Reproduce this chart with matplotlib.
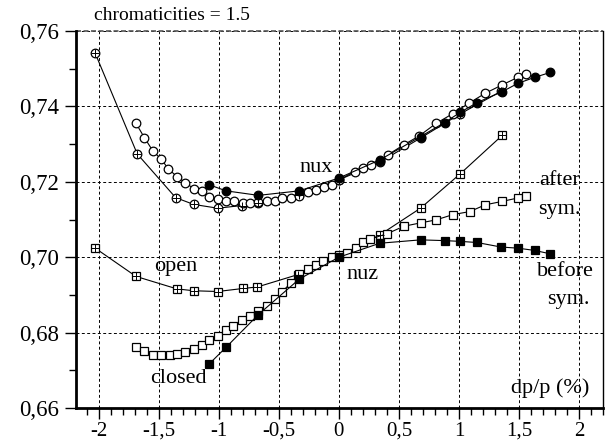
import matplotlib
matplotlib.use("Agg")
import matplotlib.pyplot as plt
from matplotlib.ticker import MultipleLocator, FuncFormatter

plt.rcParams['font.family'] = ['Liberation Serif', 'DejaVu Serif']

# crossed circles (nux, open)
nux_open_x = [-2.03, -1.68, -1.36, -1.21, -1.01, -0.81, -0.67, -0.33, 0.0, 0.34, 0.68, 1.01, 1.35]
nux_open_y = [0.7541, 0.7274, 0.7158, 0.7140, 0.7130, 0.7137, 0.7143, 0.7166, 0.7205, 0.7252, 0.7316, 0.7380, 0.7440]

# open circles (nux, closed / after sym.)
nux_after_x = [-1.69, -1.62, -1.55, -1.48, -1.42, -1.35, -1.28, -1.21, -1.14, -1.08, -1.01, -0.94, -0.87,
               -0.80, -0.74, -0.67, -0.60, -0.53, -0.47, -0.40, -0.33, -0.26, -0.19, -0.12, -0.06, 0.0,
               0.13, 0.20, 0.27, 0.34, 0.41, 0.54, 0.67, 0.81, 0.95, 1.08, 1.22, 1.36, 1.49, 1.56]
nux_after_y = [0.7355, 0.7317, 0.7282, 0.7260, 0.7234, 0.7214, 0.7198, 0.7182, 0.7176, 0.7161, 0.7155, 0.7149, 0.7149,
               0.7145, 0.7145, 0.7146, 0.7148, 0.7150, 0.7156, 0.7158, 0.7163, 0.7172, 0.7179, 0.7185, 0.7192, 0.7205,
               0.7227, 0.7236, 0.7245, 0.7254, 0.7272, 0.7298, 0.7322, 0.7355, 0.7381, 0.7408, 0.7435, 0.7457, 0.7477, 0.7486]

# filled circles (nux, before sym.)
nux_before_x = [-1.08, -0.94, -0.67, -0.33, 0.0, 0.34, 0.68, 0.88, 1.01, 1.15, 1.36, 1.49, 1.63, 1.76]
nux_before_y = [0.7192, 0.7176, 0.7164, 0.7176, 0.7210, 0.7258, 0.7320, 0.7357, 0.7384, 0.7410, 0.7439, 0.7461, 0.7477, 0.7490]

# squared plus (nuz, open)
nuz_open_x = [-2.03, -1.69, -1.35, -1.21, -1.01, -0.80, -0.68, -0.34, 0.0, 0.34, 0.68, 1.01, 1.36]
nuz_open_y = [0.7024, 0.6949, 0.6916, 0.6911, 0.6909, 0.6917, 0.6921, 0.6954, 0.7002, 0.7059, 0.7130, 0.7221, 0.7323]

# open squares (nuz, after sym.)
nuz_after_x = [-1.69, -1.62, -1.55, -1.48, -1.41, -1.35, -1.28, -1.21, -1.14, -1.08, -1.01, -0.94, -0.88, -0.81,
               -0.74, -0.67, -0.60, -0.53, -0.47, -0.40, -0.33, -0.26, -0.19, -0.13, -0.06, 0.0, 0.07,
               0.14, 0.20, 0.26, 0.40, 0.54, 0.68, 0.81, 0.95, 1.09, 1.22, 1.36, 1.49, 1.56]
nuz_after_y = [0.6762, 0.6750, 0.6740, 0.6740, 0.6740, 0.6742, 0.6748, 0.6757, 0.6768, 0.6780, 0.6792, 0.6806, 0.6818, 0.6834,
               0.6845, 0.6856, 0.6871, 0.6890, 0.6909, 0.6932, 0.6956, 0.6969, 0.6980, 0.6989, 0.7000, 0.7005, 0.7012,
               0.7024, 0.7039, 0.7048, 0.7062, 0.7082, 0.7091, 0.7099, 0.7113, 0.7121, 0.7139, 0.7148, 0.7157, 0.7163]

# filled squares (nuz, before sym.)
nuz_before_x = [-1.08, -0.94, -0.67, -0.33, 0.0, 0.34, 0.68, 0.88, 1.01, 1.15, 1.35, 1.49, 1.63, 1.76]
nuz_before_y = [0.6717, 0.6761, 0.6848, 0.6942, 0.7000, 0.7037, 0.7046, 0.7044, 0.7042, 0.7039, 0.7027, 0.7024, 0.7018, 0.7009]

fig = plt.figure(figsize=(6.07, 4.45), dpi=100)
ax = fig.add_axes([76/607, 1-408/445, (603-76)/607, (408-31)/445])
ax.set_xlim(-2.19, 2.2)
ax.set_ylim(0.66, 0.76)

lw = 0.8
ms = 6.2
mew = 0.9

def crossed(x, y, marker):
    ax.plot(x, y, '-', color='black', lw=lw, marker=marker, ms=ms, mfc='white', mec='black', mew=mew, zorder=3)
    ax.plot(x, y, linestyle='none', marker='+', ms=ms, mec='black', mew=0.7, zorder=4)

crossed(nux_open_x, nux_open_y, 'o')
ax.plot(nux_after_x, nux_after_y, '-', color='black', lw=lw, marker='o', ms=ms, mfc='white', mec='black', mew=mew, zorder=3)
ax.plot(nux_before_x, nux_before_y, '-', color='black', lw=lw, marker='o', ms=ms, mfc='black', mec='black', mew=mew, zorder=5)

crossed(nuz_open_x, nuz_open_y, 's')
ax.plot(nuz_after_x, nuz_after_y, '-', color='black', lw=lw, marker='s', ms=ms, mfc='white', mec='black', mew=mew, zorder=3)
ax.plot(nuz_before_x, nuz_before_y, '-', color='black', lw=lw, marker='s', ms=ms, mfc='black', mec='black', mew=mew, zorder=5)

# grid
ax.xaxis.set_major_locator(MultipleLocator(0.5))
ax.xaxis.set_minor_locator(MultipleLocator(0.1))
ax.yaxis.set_major_locator(MultipleLocator(0.02))
ax.yaxis.set_minor_locator(MultipleLocator(0.01))
ax.grid(True, which='major', color='black', linestyle=(0, (3, 2.5)), linewidth=0.7)
ax.set_axisbelow(True)

def fmt_x(v, pos):
    s = ('%g' % round(v, 2)).replace('.', ',')
    return s.replace('\u2212', '-')

def fmt_y(v, pos):
    return ('%.2f' % v).replace('.', ',')

ax.xaxis.set_major_formatter(FuncFormatter(fmt_x))
ax.yaxis.set_major_formatter(FuncFormatter(fmt_y))

ax.tick_params(axis='both', which='major', direction='out', length=8, width=1.0)
ax.tick_params(axis='both', which='minor', direction='out', length=5, width=1.0)
ax.tick_params(axis='y', which='major', labelsize=16.5, pad=4)
ax.tick_params(axis='x', which='major', labelsize=15, pad=2)
ax.tick_params(top=False, right=False)

for s in ['left', 'bottom']:
    ax.spines[s].set_linewidth(2.0)
ax.spines['right'].set_linewidth(1.0)
ax.spines['top'].set_visible(False)
ax.axhline(0.76, color='#555555', linestyle=(0, (3, 1.5)), lw=1.2, clip_on=False)

# annotations
fs = 16
fig.text(172/607, 1-15/445, 'chromaticities = 1.5', fontsize=14, ha='center', va='center')
ax.text(-0.19, 0.7237, 'nux', fontsize=fs, ha='center', va='center')
ax.text(0.20, 0.6954, 'nuz', fontsize=fs, ha='center', va='center')
ax.text(-1.36, 0.6975, 'open', fontsize=fs, ha='center', va='center')
ax.text(-1.34, 0.6678, 'closed', fontsize=fs, ha='center', va='center')
ax.text(1.84, 0.7203, 'after', fontsize=fs, ha='center', va='center')
ax.text(1.84, 0.7126, 'sym.', fontsize=fs, ha='center', va='center')
ax.text(1.89, 0.6962, 'before', fontsize=fs, ha='center', va='center')
ax.text(1.91, 0.6887, 'sym.', fontsize=fs, ha='center', va='center')
ax.text(1.76, 0.6654, 'dp/p (%)', fontsize=fs, ha='center', va='center')

fig.savefig('out.png', dpi=100)
